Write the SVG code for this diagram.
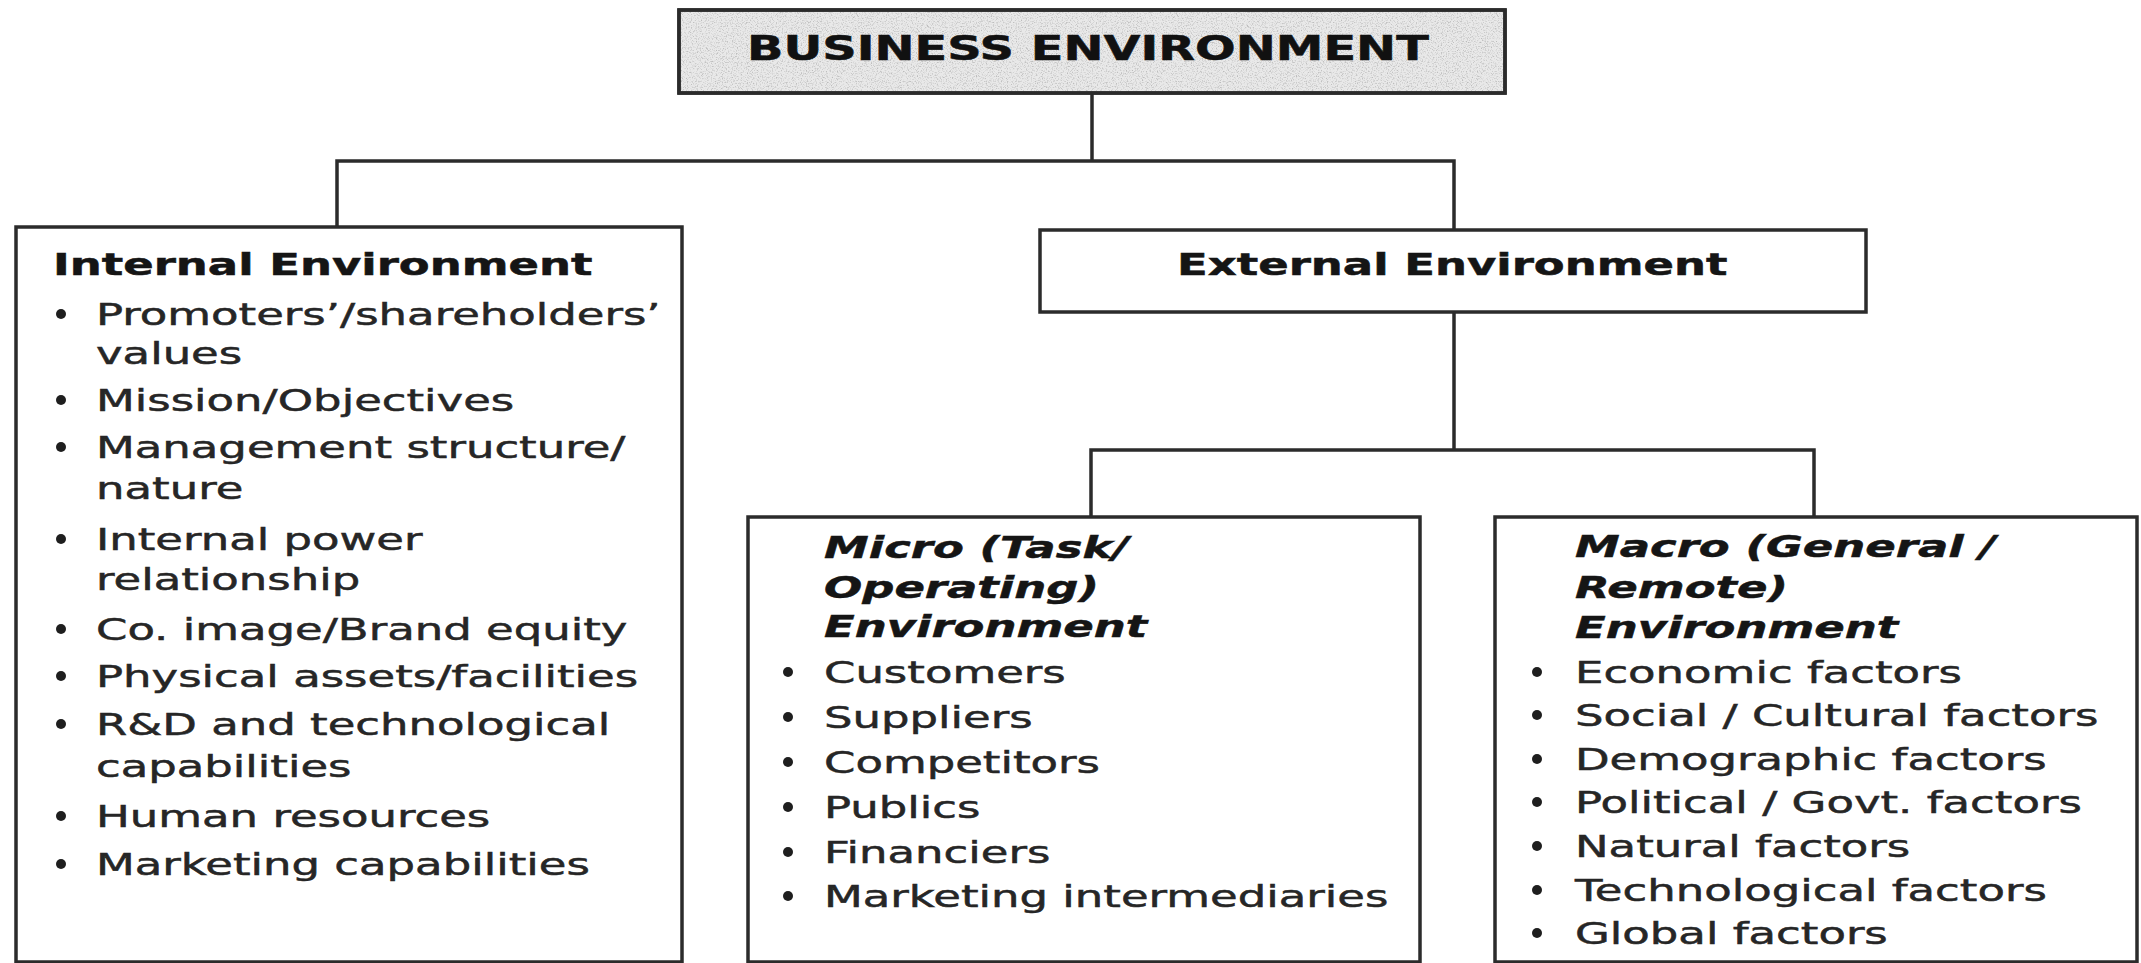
<svg xmlns="http://www.w3.org/2000/svg" width="2141" height="963" viewBox="0 0 2141 963">
  <defs>
    <style>
      .box { fill: #ffffff; stroke: #2b2b2b; stroke-width: 3.5; }
      .title-box { fill: #e9e9e9; stroke: #2b2b2b; stroke-width: 3.5; }
      .link { fill: none; stroke: #2b2b2b; stroke-width: 3.5; }
      text { font-family: "DejaVu Sans", Verdana, sans-serif; font-size: 31px; fill: #262626; stroke: #262626; stroke-width: 0.5; }
      .head { font-weight: bold; fill: #151515; stroke: #151515; }
      .ital { font-weight: bold; font-style: italic; fill: #151515; stroke: #151515; }
      .big { font-size: 33px; font-weight: bold; fill: #111111; stroke: #111111; }
      .dot { fill: #1e1e1e; }
    </style>
    <!-- speckled grey texture for the title box -->
    <filter id="grain" x="0" y="0" width="100%" height="100%">
      <feTurbulence type="fractalNoise" baseFrequency="0.8" numOctaves="2" seed="7" result="noise"/>
      <feColorMatrix in="noise" type="matrix" values="0 0 0 0 0.5  0 0 0 0 0.5  0 0 0 0 0.5  3.0 0 0 0 -1.45" result="specks"/>
      <feComposite in="specks" in2="SourceAlpha" operator="in"/>
    </filter>
  </defs>

  <!-- connectors -->
  <g id="connectors">
    <polyline class="link" points="1092,93 1092,161"/>
    <polyline class="link" points="337,227 337,161 1454,161 1454,230"/>
    <polyline class="link" points="1454,312 1454,450"/>
    <polyline class="link" points="1091,517 1091,450 1814,450 1814,517"/>
  </g>

  <!-- root -->
  <g id="business-environment">
    <rect class="title-box" x="679" y="10" width="826" height="83"/>
    <rect x="681" y="12" width="822" height="79" fill="#000" filter="url(#grain)"/>
    <rect x="679" y="10" width="826" height="83" fill="none" stroke="#2b2b2b" stroke-width="3.5"/>
    <text class="big" transform="matrix(1.45 0 0 1 747 60)">BUSINESS ENVIRONMENT</text>
  </g>

  <!-- internal environment -->
  <g id="internal-environment">
    <rect class="box" x="16" y="227" width="666" height="735"/>
    <text class="head" transform="matrix(1.45 0 0 1 53 275)">Internal Environment</text>
    <g class="dots">
      <circle class="dot" cx="61" cy="314" r="5"/>
      <circle class="dot" cx="61" cy="400" r="5"/>
      <circle class="dot" cx="61" cy="447" r="5"/>
      <circle class="dot" cx="61" cy="539" r="5"/>
      <circle class="dot" cx="61" cy="629" r="5"/>
      <circle class="dot" cx="61" cy="676" r="5"/>
      <circle class="dot" cx="61" cy="724" r="5"/>
      <circle class="dot" cx="61" cy="816" r="5"/>
      <circle class="dot" cx="61" cy="864" r="5"/>
    </g>
    <g transform="matrix(1.45 0 0 1 96 0)">
      <text x="0" y="325">Promoters’/shareholders’</text>
      <text x="0" y="364">values</text>
      <text x="0" y="411">Mission/Objectives</text>
      <text x="0" y="458">Management structure/</text>
      <text x="0" y="499">nature</text>
      <text x="0" y="550">Internal power</text>
      <text x="0" y="590">relationship</text>
      <text x="0" y="640">Co. image/Brand equity</text>
      <text x="0" y="687">Physical assets/facilities</text>
      <text x="0" y="735">R&amp;D and technological</text>
      <text x="0" y="777">capabilities</text>
      <text x="0" y="827">Human resources</text>
      <text x="0" y="875">Marketing capabilities</text>
    </g>
  </g>

  <!-- external environment -->
  <g id="external-environment">
    <rect class="box" x="1040" y="230" width="826" height="82"/>
    <text class="head" transform="matrix(1.45 0 0 1 1177 275)">External Environment</text>
  </g>

  <!-- micro environment -->
  <g id="micro-environment">
    <rect class="box" x="748" y="517" width="672" height="445"/>
    <g transform="matrix(1.45 0 0 1 824 0)">
      <text class="ital" x="0" y="558">Micro (Task/</text>
      <text class="ital" x="0" y="598">Operating)</text>
      <text class="ital" x="0" y="637">Environment</text>
    </g>
    <g>
      <circle class="dot" cx="788" cy="672" r="5"/>
      <circle class="dot" cx="788" cy="717" r="5"/>
      <circle class="dot" cx="788" cy="762" r="5"/>
      <circle class="dot" cx="788" cy="807" r="5"/>
      <circle class="dot" cx="788" cy="852" r="5"/>
      <circle class="dot" cx="788" cy="896" r="5"/>
    </g>
    <g transform="matrix(1.45 0 0 1 824 0)">
      <text x="0" y="683">Customers</text>
      <text x="0" y="728">Suppliers</text>
      <text x="0" y="773">Competitors</text>
      <text x="0" y="818">Publics</text>
      <text x="0" y="863">Financiers</text>
      <text x="0" y="907">Marketing intermediaries</text>
    </g>
  </g>

  <!-- macro environment -->
  <g id="macro-environment">
    <rect class="box" x="1495" y="517" width="642" height="445"/>
    <g transform="matrix(1.45 0 0 1 1575 0)">
      <text class="ital" x="0" y="557">Macro (General /</text>
      <text class="ital" x="0" y="598">Remote)</text>
      <text class="ital" x="0" y="638">Environment</text>
    </g>
    <g>
      <circle class="dot" cx="1537" cy="672" r="5"/>
      <circle class="dot" cx="1537" cy="715" r="5"/>
      <circle class="dot" cx="1537" cy="759" r="5"/>
      <circle class="dot" cx="1537" cy="802" r="5"/>
      <circle class="dot" cx="1537" cy="846" r="5"/>
      <circle class="dot" cx="1537" cy="890" r="5"/>
      <circle class="dot" cx="1537" cy="933" r="5"/>
    </g>
    <g transform="matrix(1.45 0 0 1 1575 0)">
      <text x="0" y="683">Economic factors</text>
      <text x="0" y="726">Social / Cultural factors</text>
      <text x="0" y="770">Demographic factors</text>
      <text x="0" y="813">Political / Govt. factors</text>
      <text x="0" y="857">Natural factors</text>
      <text x="0" y="901">Technological factors</text>
      <text x="0" y="944">Global factors</text>
    </g>
  </g>
</svg>
